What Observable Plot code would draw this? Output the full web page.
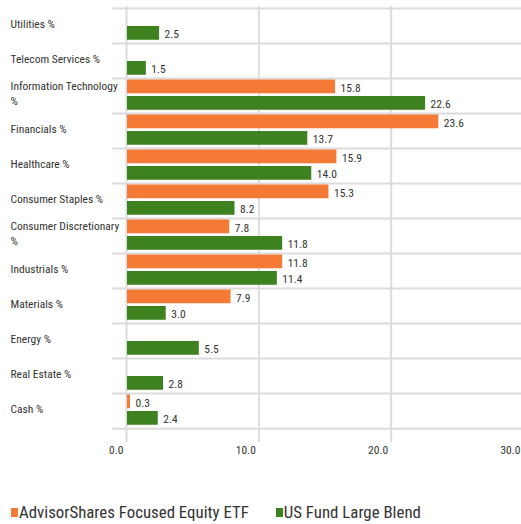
<!DOCTYPE html>
<html>
<head>
<meta charset="utf-8">
<script src="https://cdn.jsdelivr.net/npm/d3@7"></script>
<script src="https://cdn.jsdelivr.net/npm/@observablehq/plot@0.6"></script>
<style>
  body { margin: 0; background: #fff; font-family: "Roboto Condensed", sans-serif; overflow: hidden; }
  #chart svg { overflow: hidden; }
  #legend { display: flex; margin-top: 34px; color: #333; line-height: 1; }
  .item { display: flex; align-items: center; }
  .sw { display: inline-block; width: 7px; height: 9px; margin-right: 1px; }
</style>
</head>
<body>
<div id="chart"></div>
<div id="legend"></div>
<script>
const categories = ["Utilities %", "Telecom Services %", "Information Technology %", "Financials %", "Healthcare %", "Consumer Staples %", "Consumer Discretionary %", "Industrials %", "Materials %", "Energy %", "Real Estate %", "Cash %"];
const categoryLabels = ["Utilities %", "Telecom Services %", "Information Technology\n%", "Financials %", "Healthcare %", "Consumer Staples %", "Consumer Discretionary\n%", "Industrials %", "Materials %", "Energy %", "Real Estate %", "Cash %"];
const series = ["AdvisorShares Focused Equity ETF", "US Fund Large Blend"];
const etfValues = [null, null, 15.8, 23.6, 15.9, 15.3, 7.8, 11.8, 7.9, null, null, 0.3];
const blendValues = [2.5, 1.5, 22.6, 13.7, 14.0, 8.2, 11.8, 11.4, 3.0, 5.5, 2.8, 2.4];
const xTicks = [0, 10, 20, 30];
const colors = ["#f47a36", "#3d821e"];

const font = "Roboto Condensed, sans-serif";
const fs = 11.5;

const W = 521, H = 470, mt = 6, mb = 41, ml = 126, mr = -2;
const rowH = (H - mt - mb) / categories.length;

const etf = categories.map((c, i) => ({cat: c, v: etfValues[i]})).filter(d => d.v != null);
const blend = categories.map((c, i) => ({cat: c, v: blendValues[i]})).filter(d => d.v != null);
const labelRows = categories.map((c, i) => ({cat: c, label: categoryLabels[i]}));

const orangeTop = 1.5, barH = 14, gap = 2.5;
const greenTop = orangeTop + barH + gap;
const oCenter = orangeTop + barH / 2 - rowH / 2;
const gCenter = greenTop + barH / 2 - rowH / 2;

const chart = Plot.plot({
  width: W, height: H,
  marginTop: mt, marginBottom: mb, marginLeft: ml, marginRight: mr,
  style: {fontFamily: font, fontSize: fs + "px", color: "#333", background: "#fff"},
  x: {domain: [0, 30], axis: null, label: null},
  y: {domain: categories, padding: 0, axis: null, label: null},
  marks: [
    Plot.ruleX(xTicks, {stroke: "#dcdcdc", strokeWidth: 2, insetBottom: -13}),
    Plot.ruleY(categories, {y: d => d, dy: -rowH / 2, stroke: "#dcdcdc", strokeWidth: 2, insetLeft: -14}),
    Plot.ruleY([categories[categories.length - 1]], {y: d => d, dy: rowH / 2, stroke: "#dcdcdc", strokeWidth: 2, insetLeft: -14}),
    Plot.barX(etf, {x: "v", y: "cat", fill: colors[0], insetTop: orangeTop, insetBottom: rowH - orangeTop - barH, insetLeft: 1}),
    Plot.barX(blend, {x: "v", y: "cat", fill: colors[1], insetTop: greenTop, insetBottom: rowH - greenTop - barH, insetLeft: 1}),
    Plot.text(etf, {x: "v", y: "cat", text: d => d.v.toFixed(1), textAnchor: "start", dx: 5, dy: oCenter + 1, fill: "#333", fontSize: fs}),
    Plot.text(blend, {x: "v", y: "cat", text: d => d.v.toFixed(1), textAnchor: "start", dx: 5, dy: gCenter + 1, fill: "#333", fontSize: fs}),
    Plot.text(labelRows, {y: "cat", text: "label", frameAnchor: "left", textAnchor: "start", dx: -116, dy: -3, lineHeight: 1.3, fill: "#333", fontSize: fs}),
    Plot.axisX(xTicks, {tickFormat: d => d.toFixed(1), tickSize: 0, tickPadding: 16, textAnchor: "end", dx: -3, fill: "#333", fontSize: fs, label: null})
  ]
});
document.getElementById("chart").appendChild(chart);

// legend sized to match reference width
const ctx = document.createElement("canvas").getContext("2d");
ctx.font = `100px ${font}`;
const legendSize = Math.min(18, 230 / ctx.measureText(series[0]).width * 100);
const legend = document.getElementById("legend");
legend.style.fontSize = legendSize + "px";
series.forEach((s, i) => {
  const item = document.createElement("div");
  item.className = "item";
  item.style.marginLeft = i === 0 ? "11px" : "27px";
  const sw = document.createElement("span");
  sw.className = "sw";
  sw.style.background = colors[i];
  const t = document.createElement("span");
  t.textContent = s;
  item.appendChild(sw);
  item.appendChild(t);
  legend.appendChild(item);
});
</script>
</body>
</html>
